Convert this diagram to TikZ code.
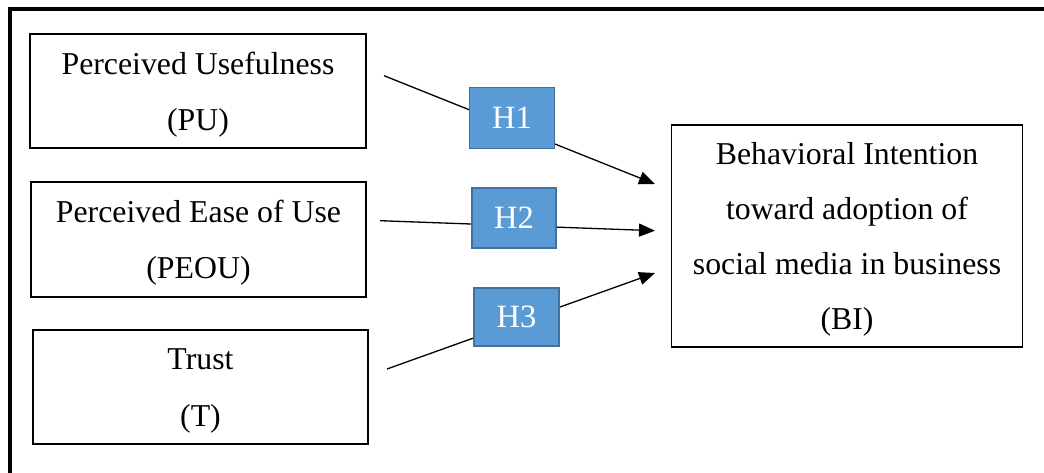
\documentclass[tikz,border=0pt]{standalone}
\usepackage{fontspec}
\setmainfont{Liberation Serif}
\usetikzlibrary{arrows.meta}
\definecolor{hfill}{HTML}{5B9BD5}
\definecolor{hdraw}{HTML}{41719C}
\tikzset{
  cbox/.style={draw=black, line width=1.8pt, inner sep=0pt, align=center,
    font=\fontsize{31.8}{56}\selectfont},
  hbox/.style={draw=hdraw, fill=hfill, line width=1.6pt, inner sep=0pt,
    text=white, font=\fontsize{32.5}{38}\selectfont},
  conn/.style={line width=1.3pt, -{Triangle[length=16pt,width=13pt]}},
}
\begin{document}
\begin{tikzpicture}[x=1pt,y=-1pt]
\useasboundingbox (0,0) rectangle (1044,473);
\fill[white] (0,0) rectangle (1044,473);
% outer frame (only top and left edges visible)
\draw[line width=4pt] (1044,9.5) -- (9.5,9.5) -- (9.5,473);

% constructs
\node[cbox, minimum width=336, minimum height=114] (pu) at (198,91)
  {\strut Perceived Usefulness\\ \strut(PU)};
\node[cbox, minimum width=335, minimum height=115] (peou) at (198.5,239.5)
  {\strut Perceived Ease of Use\\ \strut(PEOU)};
\node[cbox, minimum width=335, minimum height=114, font=\fontsize{31.8}{57}\selectfont] (t) at (200.5,387)
  {\strut Trust\\ \strut(T)};
\node[cbox, minimum width=351, minimum height=222, font=\fontsize{31.8}{55}\selectfont] (bi) at (847,236)
  {\strut Behavioral Intention\\ \strut toward adoption of\\ \strut social media in business\\ \strut(BI)};

% connector end points
\coordinate (s1) at (384,75.7);
\coordinate (e1) at (655,184);
\coordinate (s2) at (380,220.7);
\coordinate (e2) at (655,230.7);
\coordinate (s3) at (387,369);
\coordinate (e3) at (655,273);

\draw[conn] (s1) -- (e1);
\draw[conn] (s2) -- (e2);
\draw[conn] (s3) -- (e3);

% hypothesis labels
\node[hbox, minimum width=85, minimum height=61] (h1) at (512,118) {H1};
\node[hbox, minimum width=84, minimum height=60] (h2) at (514,218) {H2};
\node[hbox, minimum width=85, minimum height=58] (h3) at (516.5,316.7) {H3};
\end{tikzpicture}
\end{document}
